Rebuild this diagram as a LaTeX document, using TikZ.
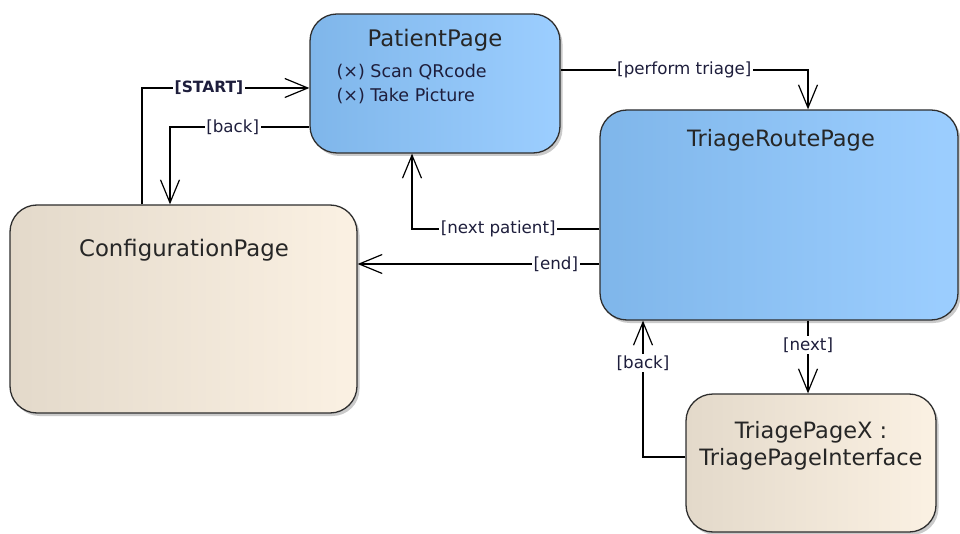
\documentclass[tikz,border=0pt]{standalone}
\usepackage{fontspec}
\setmainfont{DejaVu Sans}
\usetikzlibrary{arrows.meta,shadows,positioning}

\definecolor{boxline}{HTML}{2E2E2E}
\definecolor{blueL}{HTML}{7FB6EA}
\definecolor{blueR}{HTML}{9CCEFF}
\definecolor{sandL}{HTML}{E3D9CA}
\definecolor{sandR}{HTML}{FBF1E3}
\definecolor{lbltext}{HTML}{1E1E3C}

\tikzset{
  page/.style={draw=boxline, line width=1.3pt, rounded corners=27pt,
    shading=axis, shading angle=90,
    drop shadow={shadow xshift=2.5pt, shadow yshift=-3pt, opacity=0.35, fill=black!60}},
  bluepage/.style={page, left color=blueL, right color=blueR},
  sandpage/.style={page, left color=sandL, right color=sandR},
  title/.style={font=\fontsize{22.8}{27}\selectfont, text=black!85},
  attr/.style={font=\fontsize{17.5}{21}\selectfont, text=lbltext, anchor=west},
  trans/.style={draw=black, line width=1.2pt, -{Straight Barb[length=23pt,width=19pt,line width=1.2pt]}},
  lbl/.style={fill=white, inner sep=1.5pt, text=lbltext, font=\fontsize{16.7}{20}\selectfont}
}

\begin{document}
\begin{tikzpicture}[x=1pt,y=-1pt]
  \useasboundingbox (0,0) rectangle (960,534);

  % states
  \node[bluepage, minimum width=250pt, minimum height=139pt] (pat) at (435,83.5) {};
  \node[bluepage, minimum width=358pt, minimum height=210pt] (trp) at (779,215) {};
  \node[sandpage, minimum width=347pt, minimum height=208pt] (cfg) at (183.5,309) {};
  \node[sandpage, minimum width=250pt, minimum height=138pt] (tpx) at (811,463) {};

  % state texts
  \node[title] (patTitle) at (435,40) {PatientPage};
  \node[attr] (patScan) at (333,72) {(×) Scan QRcode};
  \node[attr] (patPic) at (333,96) {(×) Take Picture};
  \node[title, font=\fontsize{22.5}{27}\selectfont] (trpTitle) at (781,140) {TriageRoutePage};
  \node[title] (cfgTitle) at (184,250) {ConfigurationPage};
  \node[title, align=center, font=\fontsize{22.5}{27}\selectfont] (tpxTitle) at (811,446) {TriagePageX :\\TriagePageInterface};

  % bend points
  \coordinate (bStart) at (142,88);
  \coordinate (bBack) at (170,127);
  \coordinate (bTriage) at (808,70);
  \coordinate (bNextPat) at (412,229);
  \coordinate (bEnd) at (0,264);
  \coordinate (bBack2) at (643,457);

  % transitions
  \draw[trans] (cfg.north -| bStart) -- (bStart)
    -- node[lbl, pos=0.4, font=\fontsize{15.5}{18}\selectfont\bfseries] {[START]} (pat.west |- bStart);
  \draw[trans] (pat.west |- bBack) -- node[lbl, pos=0.55] {[back]} (bBack) -- (cfg.north -| bBack);
  \draw[trans] (pat.east |- bTriage) -- node[lbl, pos=0.5] {[perform triage]} (bTriage) -- (trp.north -| bTriage);
  \draw[trans] (trp.west |- bNextPat) -- node[lbl, pos=0.54] {[next patient]} (bNextPat) -- (pat.south -| bNextPat);
  \draw[trans] (trp.west |- bEnd) -- node[lbl, pos=0.18] {[end]} (cfg.east |- bEnd);
  \draw[trans] (trp.south -| bTriage) -- node[lbl, pos=0.34] {[next]} (tpx.north -| bTriage);
  \draw[trans] (tpx.west |- bBack2) -- (bBack2) -- node[lbl, pos=0.69] {[back]} (trp.south -| bBack2);
\end{tikzpicture}
\end{document}
